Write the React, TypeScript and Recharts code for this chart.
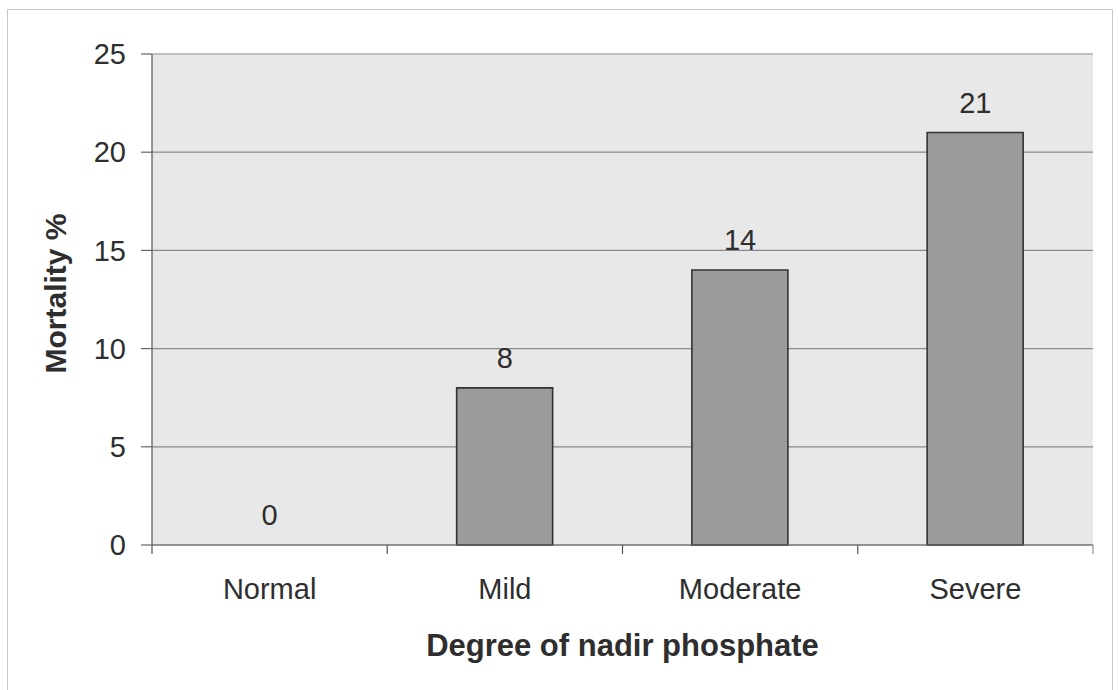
import React from "react";
import { ComposedChart, Bar, Line, XAxis, YAxis, CartesianGrid, LabelList, Label } from "recharts";

const categories = ["Normal", "Mild", "Moderate", "Severe"];
const mortality = [0, 8, 14, 21];
const yTicks = [0, 5, 10, 15, 20, 25];

const data = categories.map((c, i) => ({ name: c, value: mortality[i] }));

const FONT = "'Liberation Sans', Arial, Helvetica, sans-serif";
const TEXT = "#2e2e2e";

const XTick = (props: any) => {
  const { x, y, payload, index, visibleTicksCount, width } = props;
  const half = width / visibleTicksCount / 2;
  return (
    <g>
      <line x1={x - half} y1={y} x2={x - half} y2={y + 9} stroke="#555" strokeWidth={1.2} />
      {index === visibleTicksCount - 1 && (
        <line x1={x + half} y1={y} x2={x + half} y2={y + 9} stroke="#777" strokeWidth={1} />
      )}
      <text x={x} y={y + 54} textAnchor="middle" fill={TEXT} fontSize={29} fontFamily={FONT}>
        {payload.value}
      </text>
    </g>
  );
};

const YTitle = (props: any) => {
  const { viewBox } = props;
  const cx = viewBox.x + 58;
  const cy = viewBox.y + viewBox.height / 2 - 6;
  return (
    <text
      x={cx}
      y={cy}
      transform={`rotate(-90, ${cx}, ${cy})`}
      textAnchor="middle"
      fill={TEXT}
      fontSize={30}
      fontWeight="bold"
      fontFamily={FONT}
    >
      Mortality %
    </text>
  );
};

export default function App() {
  return (
    <div
      style={{
        position: "absolute",
        left: 7,
        top: 9,
        width: 1104,
        height: 700,
        border: "1px solid #c9c9c9",
        background: "#fff",
      }}
    >
      <ComposedChart
        width={1104}
        height={680}
        data={data}
        margin={{ top: 44, right: 19, left: 0, bottom: 0 }}
        barCategoryGap="29.5%"
      >
        <CartesianGrid vertical={false} stroke="#8a8a8a" strokeWidth={1.2} fill="#e8e8e8" />
        <XAxis
          dataKey="name"
          height={145}
          tickLine={false}
          tickSize={0}
          tickMargin={0}
          axisLine={{ stroke: "#666", strokeWidth: 1.2 }}
          tick={<XTick />}
          interval={0}
        >
          <Label
            value="Degree of nadir phosphate"
            position="insideTop"
            offset={89}
            fill={TEXT}
            fontSize={31}
            fontWeight="bold"
            fontFamily={FONT}
          />
        </XAxis>
        <YAxis
          width={144}
          domain={[0, 25]}
          ticks={yTicks}
          interval={0}
          tickSize={11}
          tickMargin={15}
          axisLine={{ stroke: "#555", strokeWidth: 1.2 }}
          tickLine={{ stroke: "#666", strokeWidth: 1.2 }}
          tick={{ fill: TEXT, fontSize: 29, fontFamily: FONT }}
        >
          <Label content={<YTitle />} />
        </YAxis>
        <Bar dataKey="value" fill="#9b9b9b" stroke="#333" strokeWidth={1.6} isAnimationActive={false} />
        <Line
          dataKey="value"
          stroke="none"
          dot={false}
          activeDot={false}
          legendType="none"
          isAnimationActive={false}
        >
          <LabelList
            dataKey="value"
            position="top"
            offset={20}
            fill={TEXT}
            fontSize={29}
            fontFamily={FONT}
          />
        </Line>
      </ComposedChart>
    </div>
  );
}
